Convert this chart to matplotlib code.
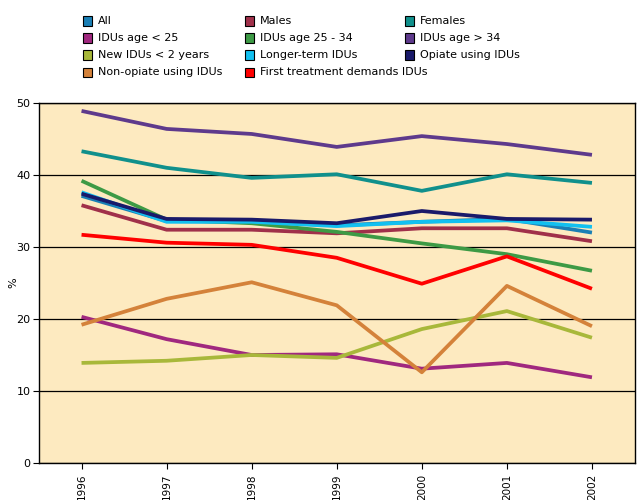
import matplotlib
matplotlib.use("Agg")
import matplotlib.pyplot as plt
from matplotlib.patches import Rectangle

years = ["1996", "1997", "1998", "1999", "2000", "2001", "2002"]

all_idu = [37.1, 33.6, 33.5, 33.0, 33.5, 33.9, 32.0]
males = [35.8, 32.4, 32.4, 31.9, 32.6, 32.6, 30.8]
females = [43.3, 41.0, 39.6, 40.1, 37.8, 40.1, 38.9]
age_lt25 = [20.3, 17.2, 15.0, 15.1, 13.1, 13.9, 11.9]
age_25_34 = [39.2, 33.8, 33.3, 32.1, 30.5, 29.0, 26.7]
age_gt34 = [48.9, 46.4, 45.7, 43.9, 45.4, 44.3, 42.8]
new_idu = [13.9, 14.2, 15.0, 14.6, 18.6, 21.1, 17.4]
longer_term = [37.6, 33.5, 33.5, 32.9, 33.5, 33.7, 32.8]
opiate = [37.4, 33.9, 33.8, 33.3, 35.0, 33.9, 33.8]
non_opiate = [19.2, 22.8, 25.1, 21.9, 12.6, 24.6, 19.0]
first_treat = [31.7, 30.6, 30.3, 28.5, 24.9, 28.7, 24.2]

series = [
    ("All", all_idu, "#1a7fb5"),
    ("Males", males, "#a0304a"),
    ("Females", females, "#10908c"),
    ("IDUs age < 25", age_lt25, "#a0287f"),
    ("IDUs age 25 - 34", age_25_34, "#3d9a45"),
    ("IDUs age > 34", age_gt34, "#5e3a8c"),
    ("New IDUs < 2 years", new_idu, "#a8b83a"),
    ("Longer-term IDUs", longer_term, "#12c0f0"),
    ("Opiate using IDUs", opiate, "#1a1a6a"),
    ("Non-opiate using IDUs", non_opiate, "#d4823a"),
    ("First treatment demands IDUs", first_treat, "#ff0000"),
]

W, H = 640, 500
fig = plt.figure(figsize=(6.4, 5.0), dpi=100)
ax = fig.add_axes([39 / W, 37 / H, 595.5 / W, 360 / H])
ax.set_facecolor("#fdeac0")

x = list(range(len(years)))
for name, vals, col in series:
    ax.plot(x, vals, color=col, lw=2.7, solid_capstyle="butt")

ax.set_xlim(-0.5, 6.5)
ax.set_ylim(0, 50)
ax.set_yticks([0, 10, 20, 30, 40, 50])
ax.set_xticks(x)
ax.set_xticklabels(years, rotation=90, fontsize=7.5)
ax.tick_params(axis="y", labelsize=8, length=4, width=0.8, pad=2)
ax.tick_params(axis="x", length=4, width=0.8)
ax.yaxis.grid(True, color="black", lw=0.9)
ax.set_axisbelow(True)
ax.set_ylabel("%", fontsize=8)
ax.yaxis.set_label_coords(-0.034, 0.5)
for s in ax.spines.values():
    s.set_linewidth(1.0)

# legend laid out by hand in three columns, row by row
col_x = [87, 249, 409]
row_y = [21, 38, 55, 72]
for i, (name, vals, col) in enumerate(series):
    px = col_x[i % 3]
    py = row_y[i // 3]
    fig.add_artist(Rectangle(((px - 4.5) / W, 1 - (py + 4.5) / H), 9 / W, 9 / H,
                             facecolor=col, edgecolor="black", lw=0.8,
                             transform=fig.transFigure))
    fig.text((px + 11) / W, 1 - py / H, name, fontsize=8, va="center", ha="left")

fig.savefig("out.png", dpi=100)
